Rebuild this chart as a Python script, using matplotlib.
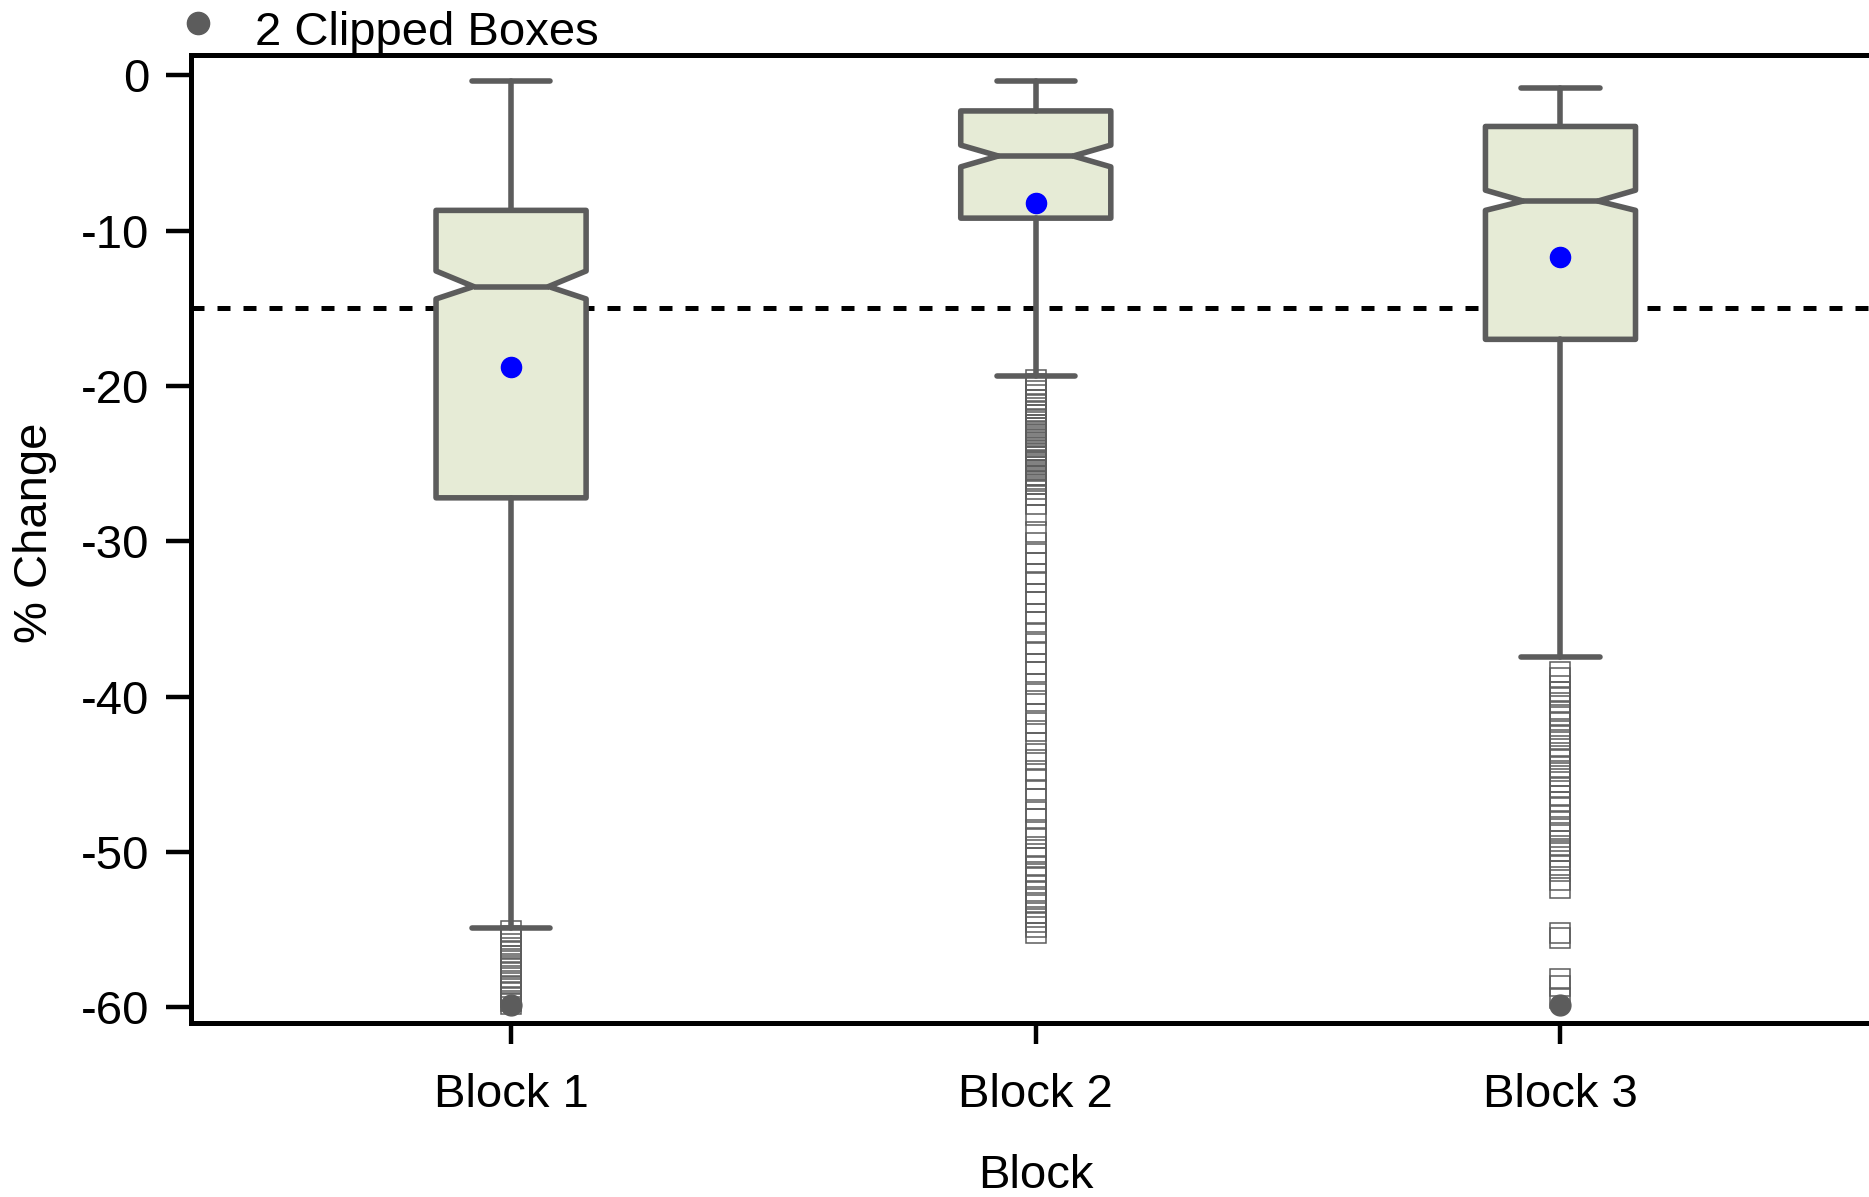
import matplotlib
matplotlib.use("Agg")
import matplotlib.pyplot as plt

plt.rcParams['font.family'] = ['Liberation Sans', 'DejaVu Sans']

blocks = ["Block 1", "Block 2", "Block 3"]
q1 = [-27.2, -9.2, -17.0]
q3 = [-8.7, -2.3, -3.3]
med = [-13.6, -5.2, -8.1]
ci_lo = [-14.4, -5.9, -8.7]
ci_hi = [-12.6, -4.5, -7.4]
whis_lo = [-54.9, -19.35, -37.45]
whis_hi = [-0.4, -0.4, -0.8]
means = [-18.8, -8.2, -11.7]

out_b1 = [-55.1, -55.4, -55.6, -55.9, -56.2, -56.4, -56.7, -57.0, -57.3,
          -57.5, -57.8, -58.1, -58.4, -58.7, -59.0, -59.3, -59.6, -59.8]
out_b2 = [-19.6, -19.9, -20.3, -20.6, -20.9, -21.2, -21.4, -21.7, -21.9,
          -22.1, -22.3, -22.5, -22.7, -22.9, -23.1, -23.3, -23.5, -23.7,
          -23.9, -24.1, -24.3, -24.5, -24.6, -24.8, -24.9, -25.1, -25.2,
          -25.4, -25.5, -25.7, -25.8, -26.0, -26.1, -26.3, -26.6, -27.0,
          -27.6, -28.3, -29.4, -30.1, -30.8, -31.4, -32.1, -32.6, -33.4,
          -33.9, -34.7, -35.2, -35.9, -36.6, -37.1, -37.9, -38.4, -39.2,
          -39.8, -40.3, -41.1, -41.7, -42.2, -43.0, -43.7, -44.1, -44.8,
          -45.3, -46.0, -46.6, -47.4, -47.9, -48.6, -49.1, -49.7, -50.1,
          -50.4, -50.9, -51.3, -51.6, -52.1, -52.5, -53.0, -53.3, -53.9,
          -54.2, -54.5, -54.8, -55.2]
out_b3 = [-38.4, -38.8, -39.3, -39.7, -40.0, -40.4, -40.9, -41.2, -41.6,
          -42.1, -42.5, -42.8, -43.2, -43.6, -44.0, -44.5, -44.8, -45.1,
          -45.5, -45.9, -46.4, -46.8, -47.1, -47.6, -48.0, -48.5, -48.8,
          -49.3, -49.6, -49.9, -50.3, -50.8, -51.2, -51.8, -52.3, -55.2,
          -55.5, -58.2, -58.6, -59.4]
outliers = [out_b1, out_b2, out_b3]

clipped_x = [1, 3]
clipped_y = [-59.85, -59.85]
ref_line = -15
yticks = [0, -10, -20, -30, -40, -50, -60]

GRAY = "#5c5c5c"
FILL = "#e6ebd6"
FS = 34
LW = 4.0

fig = plt.figure(figsize=(18.69, 11.97), dpi=100)
ax = fig.add_axes([191 / 1869, 174 / 1197, 1678 / 1869, 968 / 1197])

stats = []
for i in range(3):
    stats.append(dict(med=med[i], q1=q1[i], q3=q3[i], whislo=whis_lo[i],
                      whishi=whis_hi[i], mean=means[i], fliers=outliers[i],
                      cilo=ci_lo[i], cihi=ci_hi[i]))

ax.axhline(ref_line, color="black", lw=3.6, ls=(0, (2.6, 2.6)), zorder=1)

ax.bxp(stats, positions=[1, 2, 3], widths=0.286, capwidths=0.149,
       shownotches=True, showmeans=True, patch_artist=True,
       boxprops=dict(facecolor=FILL, edgecolor=GRAY, linewidth=LW,
                     joinstyle="round"),
       medianprops=dict(color=GRAY, linewidth=LW),
       whiskerprops=dict(color=GRAY, linewidth=LW, solid_capstyle="round"),
       capprops=dict(color=GRAY, linewidth=LW, solid_capstyle="round"),
       meanprops=dict(marker="o", markerfacecolor="#0000ff",
                      markeredgecolor="#0000ff", markersize=14.5),
       flierprops=dict(marker="s", markerfacecolor="none",
                       markeredgecolor=GRAY, markersize=14.5,
                       markeredgewidth=1.1),
       zorder=2)

ax.plot(clipped_x, clipped_y, "o", color=GRAY, markersize=15, zorder=5,
        clip_on=False)

ax.set_xlim(0.39, 3.588)
ax.set_ylim(-61.0, 1.3)
ax.set_xticks([1, 2, 3])
ax.set_xticklabels(blocks)
ax.set_yticks(yticks)
ax.set_yticklabels([str(t) for t in yticks])

for s in ["left", "bottom", "top"]:
    ax.spines[s].set_linewidth(3.6)
    ax.spines[s].set_color("black")
ax.spines["right"].set_visible(False)

ax.tick_params(axis="both", labelsize=FS, width=3.2, color="black")
ax.tick_params(axis="y", length=18, pad=12)
ax.tick_params(axis="x", length=15, pad=21)

ax.set_xlabel("Block", fontsize=FS)
ax.set_ylabel("% Change", fontsize=FS)
ax.xaxis.set_label_coords(0.5034, -0.135)
ax.yaxis.set_label_coords(-0.08, 0.506)

# clipped-boxes key above the plot
fig.add_artist(plt.Line2D([198 / 1869], [1 - 23 / 1197], marker="o",
                          color=GRAY, markersize=16, linestyle="none"))
fig.text(255 / 1869, 1 - 33 / 1197, "2 Clipped Boxes", fontsize=FS,
         va="center", ha="left")

fig.savefig("out.png", dpi=100)
